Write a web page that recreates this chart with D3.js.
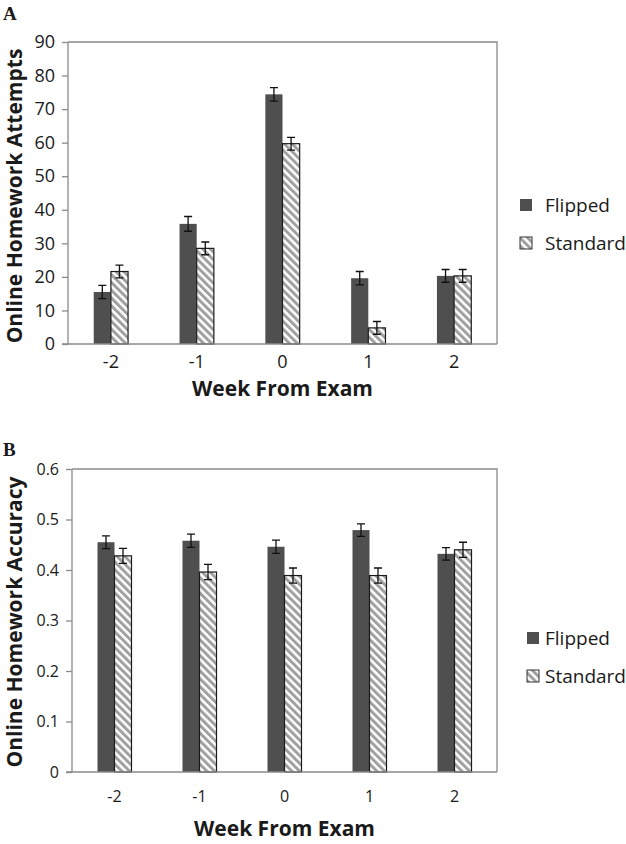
<!DOCTYPE html>
<html>
<head>
<meta charset="utf-8">
<script src="https://cdn.jsdelivr.net/npm/d3@7"></script>
<style>
  html, body { margin: 0; padding: 0; background: #fff; }
  svg { display: block; }
  text { font-family: "Open Sans", sans-serif; fill: #1a1a1a; }
</style>
</head>
<body>
<svg id="chart" width="626" height="844"></svg>
<script>
// ---- data ----
const weeks = ["-2", "-1", "0", "1", "2"];
const seriesNames = ["Flipped", "Standard"];

const attemptsFlipped  = [15.5, 35.8, 74.4, 19.6, 20.3];
const attemptsStandard = [21.6, 28.5, 59.7, 4.8, 20.3];
const attemptsFlippedErr  = [2.0, 2.2, 2.0, 2.0, 1.9];
const attemptsStandardErr = [1.9, 1.9, 1.9, 1.9, 1.9];
const attemptsTicks = [0, 10, 20, 30, 40, 50, 60, 70, 80, 90];

const accuracyFlipped  = [0.455, 0.458, 0.446, 0.479, 0.432];
const accuracyStandard = [0.428, 0.396, 0.389, 0.389, 0.440];
const accuracyFlippedErr  = [0.0125, 0.013, 0.013, 0.0125, 0.0125];
const accuracyStandardErr = [0.015, 0.015, 0.015, 0.015, 0.015];
const accuracyTicks = [0, 0.1, 0.2, 0.3, 0.4, 0.5, 0.6];

const svg = d3.select("#chart");

// hatch pattern
const defs = svg.append("defs");
const pat = defs.append("pattern")
  .attr("id", "hatch")
  .attr("patternUnits", "userSpaceOnUse")
  .attr("width", 5.5).attr("height", 5.5)
  .attr("patternTransform", "rotate(-45)");
pat.append("rect").attr("width", 5.5).attr("height", 5.5).attr("fill", "#fff");
pat.append("rect").attr("x", 0).attr("width", 3).attr("height", 5.5).attr("fill", "#a0a0a0");

function panel(cfg) {
  const g = svg.append("g");
  const x0 = d3.scaleBand().domain(weeks).range([cfg.left, cfg.right]).padding(0);
  const x1 = d3.scaleBand().domain(seriesNames).range([0, x0.bandwidth()])
    .paddingInner(0).paddingOuter(1.5);
  const y = d3.scaleLinear().domain(cfg.domain).range([cfg.bottom, cfg.top]);

  // frame (top & right)
  g.append("path")
    .attr("d", `M${cfg.left},${cfg.top}H${cfg.right}V${cfg.bottom}`)
    .attr("fill", "none").attr("stroke", "#8a8a8a").attr("stroke-width", 1.3);

  // y axis
  const ya = d3.axisLeft(y).tickValues(cfg.ticks).tickSize(6).tickPadding(7)
    .tickFormat(cfg.fmt);
  const yg = g.append("g").attr("transform", `translate(${cfg.left},0)`).call(ya);
  yg.select(".domain").attr("stroke", "#8a8a8a").attr("stroke-width", 1.3)
    .attr("d", `M0,${cfg.top}V${cfg.bottom}`);
  yg.selectAll(".tick line").attr("stroke", "#8a8a8a").attr("stroke-width", 1.3);
  yg.selectAll(".tick text").attr("font-size", cfg.tickSize).attr("fill", "#1a1a1a")
    .attr("font-family", "Open Sans");

  // bars
  const rows = weeks.map((w, i) => ({ w, vals: [
    { s: "Flipped", v: cfg.flipped[i], e: cfg.flippedErr[i] },
    { s: "Standard", v: cfg.standard[i], e: cfg.standardErr[i] }] }));
  const grp = g.selectAll("g.grp").data(rows).join("g").attr("class", "grp")
    .attr("transform", d => `translate(${x0(d.w)},0)`);
  grp.selectAll("rect").data(d => d.vals).join("rect")
    .attr("x", d => x1(d.s))
    .attr("y", d => y(d.v))
    .attr("width", x1.bandwidth())
    .attr("height", d => y(0) - y(d.v))
    .attr("fill", d => d.s === "Flipped" ? "#4f4f4f" : "url(#hatch)")
    .attr("stroke", d => d.s === "Flipped" ? "none" : "#1a1a1a")
    .attr("stroke-width", 1.2);

  // error bars
  const cap = 4;
  const eb = grp.selectAll("g.eb").data(d => d.vals).join("g").attr("class", "eb");
  eb.append("path")
    .attr("d", d => {
      const cx = x1(d.s) + x1.bandwidth() / 2;
      const yt = y(d.v + d.e), yb = y(d.v - d.e);
      return `M${cx},${yt}V${yb}M${cx - cap},${yt}H${cx + cap}M${cx - cap},${yb}H${cx + cap}`;
    })
    .attr("fill", "none").attr("stroke", "#111").attr("stroke-width", 1.3);

  // baseline
  g.append("line")
    .attr("x1", cfg.left - 6).attr("x2", cfg.right)
    .attr("y1", y(0)).attr("y2", y(0))
    .attr("stroke", "#8a8a8a").attr("stroke-width", 1.6);

  // x labels
  g.selectAll("text.xl").data(weeks).join("text").attr("class", "xl")
    .attr("x", d => x0(d) + x0.bandwidth() / 2)
    .attr("y", cfg.xLabelY)
    .attr("text-anchor", "middle")
    .attr("font-size", cfg.tickSize)
    .text(d => d);

  // x title
  g.append("text")
    .attr("x", (cfg.left + cfg.right) / 2)
    .attr("y", cfg.xTitleY)
    .attr("text-anchor", "middle")
    .attr("font-size", 21).attr("font-weight", "bold")
    .text("Week From Exam");

  // y title
  g.append("text")
    .attr("transform", `translate(${cfg.yTitleX},${cfg.yTitleCY}) rotate(-90)`)
    .attr("text-anchor", "middle")
    .attr("font-size", cfg.yTitleSize).attr("font-weight", "bold")
    .text(cfg.yTitle);

  // panel letter
  g.append("text")
    .attr("x", 3).attr("y", cfg.letterY)
    .style("font-family", "'Liberation Serif', serif")
    .attr("font-size", 19).attr("font-weight", "bold")
    .text(cfg.letter);

  // legend
  const lg = g.append("g");
  seriesNames.forEach((s, i) => {
    const ly = cfg.legendY[i];
    lg.append("rect")
      .attr("x", cfg.legendX).attr("y", ly - 6)
      .attr("width", 12).attr("height", 12)
      .attr("fill", s === "Flipped" ? "#4f4f4f" : "url(#hatch)")
      .attr("stroke", s === "Flipped" ? "none" : "#333").attr("stroke-width", 1);
    lg.append("text")
      .attr("x", 545).attr("y", ly)
      .attr("dy", "0.35em")
      .attr("font-size", 19)
      .text(s);
  });
}

panel({
  left: 68, right: 497, top: 42, bottom: 344,
  domain: [0, 90], ticks: attemptsTicks, fmt: d3.format("d"),
  flipped: attemptsFlipped, standard: attemptsStandard,
  flippedErr: attemptsFlippedErr, standardErr: attemptsStandardErr,
  tickSize: 18, xLabelY: 368, xTitleY: 396,
  yTitle: "Online Homework Attempts", yTitleX: 22, yTitleCY: 196, yTitleSize: 21,
  letter: "A", letterY: 20,
  legendX: 520, legendY: [205, 243]
});

panel({
  left: 72, right: 497, top: 469, bottom: 772,
  domain: [0, 0.6], ticks: accuracyTicks, fmt: d => d === 0 ? "0" : d3.format(".1f")(d),
  flipped: accuracyFlipped, standard: accuracyStandard,
  flippedErr: accuracyFlippedErr, standardErr: accuracyStandardErr,
  tickSize: 16, xLabelY: 802, xTitleY: 836,
  yTitle: "Online Homework Accuracy", yTitleX: 22, yTitleCY: 622, yTitleSize: 21,
  letter: "B", letterY: 456,
  legendX: 527, legendY: [638, 676]
});
</script>
</body>
</html>
